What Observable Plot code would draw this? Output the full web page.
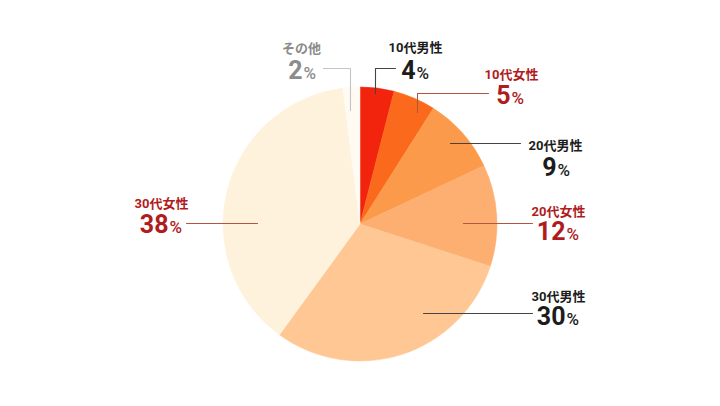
<!DOCTYPE html>
<html><head><meta charset="utf-8">
<script src="https://cdn.jsdelivr.net/npm/d3@7"></script>
<script src="https://cdn.jsdelivr.net/npm/@observablehq/plot@0.6"></script>
<style>body{margin:0;background:#fff}svg{display:block}</style>
</head><body><div id="chart"></div>
<script>
// ---- data ----
const categories = ["10代男性","10代女性","20代男性","20代女性","30代男性","30代女性","その他"];
const values = [4, 5, 9, 12, 30, 38, 2];
// ---- styles ----
const sliceColors = ["#f3240e","#fb6a1c","#fc9a4c","#fdaf72","#fec793","#fff2dc","#fffaf2"];
const textColors = ["#1c1c1c","#b01c1e","#1c1c1c","#b01c1e","#1c1c1c","#b01c1e","#8c8c8c"];
const leaderColors = ["#444","#b4553e","#444","#b4553e","#444","#b4553e","#c4c4c4"];
// ---- layout (pixels) ----
const center = [360, 224], radius = 137;
const leaderPaths = [
  [[375,93],[375,68],[395,68]],
  [[417,112],[417,93],[488,93]],
  [[450,143],[520,143]],
  [[463,223],[532,223]],
  [[423,313],[532,313]],
  [[257,223],[186,223]],
  [[350,110],[350,68],[323,68]]
];
const labelLayout = [
  {cx:415, cy:51, split:415, ny:78},
  {cx:511, cy:78, split:510, ny:103},
  {cx:555, cy:149, split:556, ny:175},
  {cx:558, cy:215, split:565, ny:239},
  {cx:558, cy:300, split:565, ny:324},
  {cx:161, cy:207, split:168, ny:232},
  {cx:301, cy:52, split:302, ny:78}
];

const rows = categories.map((c, i) => ({
  category: c, value: values[i], color: sliceColors[i], text: textColors[i],
  leader: leaderColors[i], ...labelLayout[i]
}));
const leaderData = rows.flatMap((r, i) => leaderPaths[i].map(([x, y]) => ({id: r.category, x, y, color: r.leader})));

function pieMark(index, scales) {
  const sx = scales && scales.x ? scales.x : (v => v);
  const sy = scales && scales.y ? scales.y : (v => v);
  const cx = sx(center[0]), cy = sy(center[1]);
  const r = sx(center[0] + radius) - cx;
  const arcs = d3.pie().sort(null).value(d => d.value)(rows);
  const arc = d3.arc().innerRadius(0).outerRadius(r);
  const g = d3.create("svg:g").attr("transform", `translate(${cx},${cy})`);
  g.selectAll("path").data(arcs).join("path")
    .attr("d", arc).attr("fill", d => d.data.color)
    .attr("stroke", d => d.data.color).attr("stroke-width", 0.5);
  return g.node();
}

const font = "Roboto, 'Noto Sans CJK JP', sans-serif";
const chart = Plot.plot({
  width: 720, height: 406,
  margin: 0,
  style: {background: "#ffffff", fontFamily: font},
  x: {domain: [0, 720], range: [0, 720], axis: null},
  y: {domain: [0, 406], range: [0, 406], axis: null},
  color: {type: "identity"},
  marks: [
    pieMark,
    Plot.line(leaderData, {x: "x", y: "y", z: "id", stroke: "color", strokeWidth: 1.1}),
    Plot.text(rows, {x: "cx", y: "cy", text: "category", fill: "text", fontSize: 13, fontWeight: "bold", lineAnchor: "bottom", textAnchor: "middle", fontFamily: font}),
    Plot.text(rows, {x: "split", y: "ny", text: d => String(d.value), fill: "text", fontSize: 25, fontWeight: "bold", lineAnchor: "bottom", textAnchor: "end", fontFamily: font}),
    Plot.text(rows, {x: d => d.split + 1, y: "ny", text: d => "%", fill: "text", fontSize: 17, fontWeight: 500, lineAnchor: "bottom", textAnchor: "start", fontFamily: font})
  ]
});
document.getElementById("chart").append(chart);
</script>
</body></html>
